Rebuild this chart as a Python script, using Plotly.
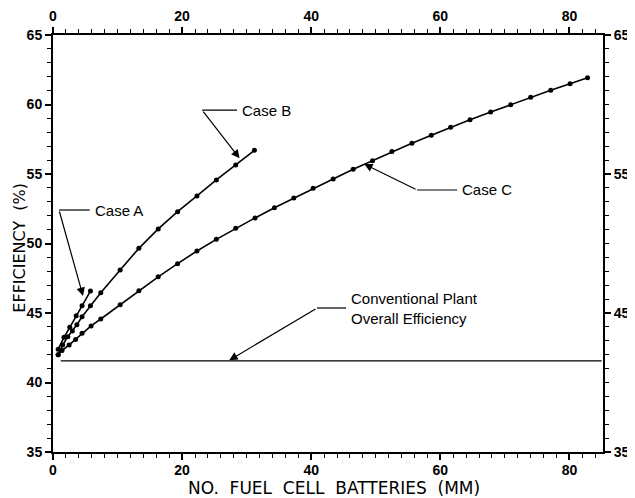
import plotly.graph_objects as go

# ---- data ----
case_a_x = [0.8, 1.7, 2.6, 3.6, 4.5, 5.8]
case_a_y = [42.4, 43.25, 43.97, 44.8, 45.53, 46.58]

case_b_x = [0.8, 1.5, 2.3, 3.0, 3.7, 4.5, 5.8, 7.4, 10.4, 13.3, 16.3, 19.3, 22.3, 25.3, 28.3, 31.2]
case_b_y = [42.0, 42.7, 43.3, 43.7, 44.15, 44.73, 45.53, 46.46, 48.1, 49.65, 51.05, 52.29, 53.42, 54.57, 55.65, 56.7]

case_c_x = [0.8, 1.4, 2.5, 3.5, 4.5, 5.9, 7.4, 10.4, 13.3, 16.3, 19.3, 22.3, 25.3, 28.3, 31.3, 34.3,
            37.3, 40.3, 43.4, 46.5, 49.5, 52.5, 55.6, 58.6, 61.6, 64.6, 67.8, 70.9, 74.0, 77.1, 80.1, 82.8]
case_c_y = [42.0, 42.3, 42.7, 43.1, 43.55, 44.07, 44.57, 45.6, 46.6, 47.6, 48.55, 49.46, 50.3, 51.09, 51.84, 52.57,
            53.27, 53.97, 54.64, 55.34, 55.96, 56.61, 57.21, 57.79, 58.36, 58.91, 59.46, 59.99, 60.52, 61.02, 61.5, 61.93]

conventional_x = [1.2, 85.0]
conventional_y = [41.55, 41.55]

x_range = [0, 85.2]
y_range = [35, 65]
x_ticks = [0, 20, 40, 60, 80]
y_left_ticks = [35, 40, 45, 50, 55, 60, 65]
y_right_ticks = [35, 45, 55, 65]

# annotation anchor points (data units)
case_a_label = dict(corner=(0.93, 52.41), hend=(5.69, 52.41), tip=(4.65, 46.22), text="Case A")
case_b_label = dict(corner=(23.1, 59.6), hend=(28.5, 59.6), tip=(28.9, 56.13), text="Case B")
case_c_label = dict(corner=(56.4, 53.85), hend=(62.6, 53.85), tip=(48.2, 55.72), text="Case C")
conv_label = dict(corner=(40.9, 45.36), hend=(45.4, 45.36), tip=(27.3, 41.6),
                  text="Conventional Plant<br>Overall Efficiency")

fig = go.Figure()
for xs, ys, nm in [(case_a_x, case_a_y, "Case A"), (case_b_x, case_b_y, "Case B"), (case_c_x, case_c_y, "Case C")]:
    fig.add_trace(go.Scatter(x=xs, y=ys, mode="lines+markers", name=nm,
                             line=dict(color="black", width=1.6),
                             marker=dict(color="black", size=5)))
fig.add_trace(go.Scatter(x=conventional_x, y=conventional_y, mode="lines", name="Conventional",
                         line=dict(color="black", width=1.3)))

label_font = dict(family="Liberation Sans, Arial, sans-serif", size=15, color="black")
for lab in [case_a_label, case_b_label, case_c_label, conv_label]:
    (cx, cy), (hx, hy), (tx, ty) = lab["corner"], lab["hend"], lab["tip"]
    fig.add_shape(type="line", x0=cx, y0=cy, x1=hx, y1=hy, xref="x", yref="y",
                  line=dict(color="black", width=1.2))
    fig.add_annotation(x=tx, y=ty, ax=cx, ay=cy, xref="x", yref="y", axref="x", ayref="y",
                       text="", showarrow=True, arrowhead=2, arrowsize=1.4, arrowwidth=1.2,
                       arrowcolor="black")
    fig.add_annotation(x=hx + 0.5, y=hy, xref="x", yref="y", text=lab["text"], showarrow=False,
                       xanchor="left", yanchor="middle", align="left", font=label_font)

tick_font = dict(family="Liberation Sans, Arial, sans-serif", size=14, color="black", weight="bold")
common = dict(showline=True, linecolor="black", linewidth=2, ticks="outside", ticklen=6,
              tickwidth=1.5, tickcolor="black", showgrid=False, zeroline=False, tickfont=tick_font,
              automargin=False)
minor_x = dict(dtick=2, tick0=0, ticks="outside", ticklen=4, tickwidth=1.2, tickcolor="black")
minor_y = dict(dtick=1, tick0=35, ticks="outside", ticklen=4, tickwidth=1.2, tickcolor="black")

# the page body adds an 8px offset, so the figure is sized to fill the remaining window
fig.update_layout(
    width=627, height=490,
    margin=dict(l=45, r=32, t=27, b=46, autoexpand=False),
    paper_bgcolor="white", plot_bgcolor="white",
    showlegend=False,
    xaxis=dict(range=x_range, tickvals=x_ticks, ticktext=[str(v) for v in x_ticks],
               minor=minor_x, ticklabelstandoff=-2, **common),
    xaxis2=dict(range=x_range, overlaying="x", side="top", tickvals=x_ticks,
                ticktext=[str(v) for v in x_ticks], minor=minor_x, **common),
    yaxis=dict(range=y_range, tickvals=y_left_ticks, ticktext=[str(v) for v in y_left_ticks],
               minor=minor_y, ticklabelstandoff=0, **common),
    yaxis2=dict(range=y_range, overlaying="y", side="right", tickvals=y_right_ticks,
                ticktext=[str(v) for v in y_right_ticks], minor=minor_y, ticklabelstandoff=0, **common),
)
# invisible trace to activate secondary axes
fig.add_trace(go.Scatter(x=[x_range[0]], y=[y_range[0]], xaxis="x2", yaxis="y2", mode="markers",
                         marker=dict(opacity=0), hoverinfo="skip", showlegend=False))

title_font = dict(family="DejaVu Sans, sans-serif", size=17, color="black")
fig.add_annotation(text="NO.\u00a0\u00a0FUEL\u00a0\u00a0CELL\u00a0\u00a0BATTERIES\u00a0\u00a0(MM)",
                   xref="paper", yref="paper", x=0.51, y=0, yshift=-36, yanchor="middle",
                   showarrow=False, font=title_font)
fig.add_annotation(text="EFFICIENCY\u00a0\u00a0(%)", textangle=-90,
                   xref="paper", yref="paper", x=0, xshift=-33, y=0.49, xanchor="center",
                   showarrow=False, font=dict(family="DejaVu Sans, sans-serif", size=16, color="black"))

fig.write_html("out.html")
